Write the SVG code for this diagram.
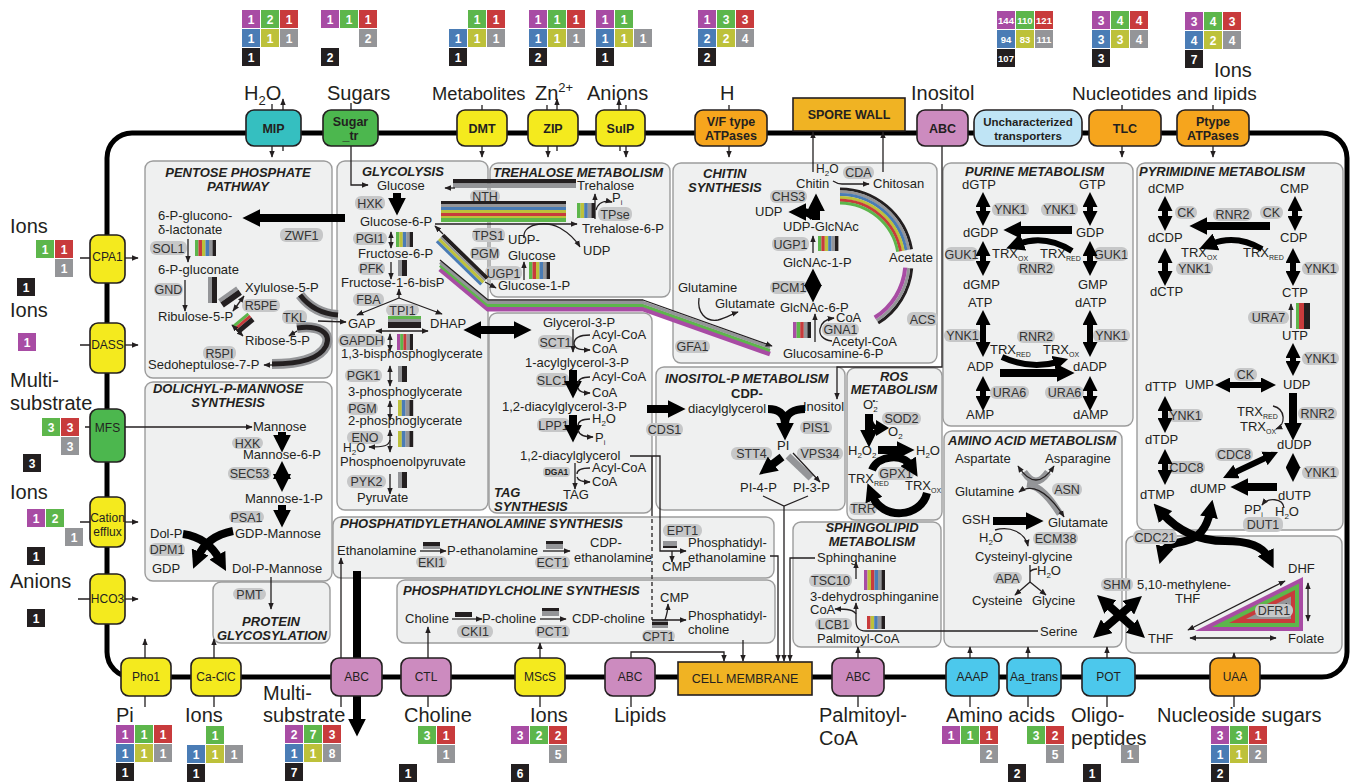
<svg xmlns="http://www.w3.org/2000/svg" width="1350" height="783" viewBox="0 0 1350 783">
<style>
text{font-family:"Liberation Sans",Arial,Helvetica,sans-serif;fill:#231f20}
.m{font-size:13px}
.L{font-size:20px}
.e{font-size:12.5px;fill:#333;text-anchor:middle}
.ti{font-size:13px;font-weight:bold;font-style:italic}
.pl{fill:#c6c7c8}
.pn{fill:#eff0f0;stroke:#9c9c9c;stroke-width:1.4}
.n{fill:#fff;font-weight:bold;font-size:12px;text-anchor:middle}
.n3{fill:#fff;font-weight:bold;font-size:9.5px;text-anchor:middle}
.P{fill:#a84ca4}.G{fill:#5db64b}.R{fill:#c83b3c}.B{fill:#4a7cb5}.Y{fill:#bdc13a}.Gy{fill:#949598}.K{fill:#231f20}
.ln{fill:none;stroke:#231f20;stroke-width:1.3}
.th{fill:none;stroke:#000;stroke-width:8}
.md{fill:none;stroke:#000;stroke-width:6}
.tp{stroke:#231f20;stroke-width:1.6}
.tx{font-size:12px;text-anchor:middle}
.tb{font-size:12.5px;font-weight:bold;text-anchor:middle}
</style>
<defs>
<marker id="a" viewBox="0 0 10 10" refX="9" refY="5" markerWidth="7" markerHeight="7" markerUnits="userSpaceOnUse" orient="auto-start-reverse"><path d="M0,1L10,5L0,9z" fill="#231f20"/></marker>
<marker id="A" viewBox="0 0 10 10" refX="3" refY="5" markerWidth="18" markerHeight="18" markerUnits="userSpaceOnUse" orient="auto-start-reverse"><path d="M0,0L10,5L0,10z" fill="#000"/></marker>
<marker id="D" viewBox="0 0 10 10" refX="3" refY="5" markerWidth="15" markerHeight="15" markerUnits="userSpaceOnUse" orient="auto-start-reverse"><path d="M0,0L10,5L0,10z" fill="#000"/></marker>
</defs>
<rect width="1350" height="783" fill="#fff"/>

<!-- cell outline -->
<rect id="cell" x="107" y="133" width="1240" height="544" rx="25" fill="none" stroke="#000" stroke-width="5"/>

<!-- outside labels -->
<g id="labels">
<text class="L" x="244" y="100">H<tspan style="font-size:13px" dy="5">2</tspan><tspan dy="-5">O</tspan></text>
<text class="L" x="327" y="100">Sugars</text>
<text class="L" x="432" y="100" style="font-size:18.3px">Metabolites</text>
<text class="L" x="535" y="100">Zn<tspan style="font-size:13px" dy="-8">2+</tspan></text>
<text class="L" x="587" y="100">Anions</text>
<text class="L" x="720" y="100">H</text>
<text class="L" x="911" y="100">Inositol</text>
<text class="L" x="1072" y="100" style="font-size:19px">Nucleotides and lipids</text>
<text class="L" x="1214" y="77">Ions</text>
<text class="L" x="10" y="233">Ions</text>
<text class="L" x="10" y="317">Ions</text>
<text class="L" x="10" y="387">Multi-</text>
<text class="L" x="10" y="410">substrate</text>
<text class="L" x="10" y="499">Ions</text>
<text class="L" x="10" y="588">Anions</text>
<text class="L" x="116" y="722">Pi</text>
<text class="L" x="185" y="722">Ions</text>
<text class="L" x="263" y="700">Multi-</text>
<text class="L" x="263" y="722">substrate</text>
<text class="L" x="404" y="722">Choline</text>
<text class="L" x="530" y="722">Ions</text>
<text class="L" x="614" y="722">Lipids</text>
<text class="L" x="819" y="722">Palmitoyl-</text>
<text class="L" x="819" y="745">CoA</text>
<text class="L" x="946" y="722">Amino acids</text>
<text class="L" x="1071" y="722">Oligo-</text>
<text class="L" x="1071" y="745">peptides</text>
<text class="L" x="1157" y="722">Nucleoside sugars</text>
</g>

<!-- count boxes -->
<g id="counts">
<g transform="translate(242,10)"><rect class="P" width="18" height="18"/><text class="n" x="9" y="13.5">1</text><rect class="G" x="19" width="18" height="18"/><text class="n" x="28" y="13.5">2</text><rect class="R" x="38" width="18" height="18"/><text class="n" x="47" y="13.5">1</text><rect class="B" y="19" width="18" height="18"/><text class="n" x="9" y="32.5">1</text><rect class="Y" x="19" y="19" width="18" height="18"/><text class="n" x="28" y="32.5">1</text><rect class="Gy" x="38" y="19" width="18" height="18"/><text class="n" x="47" y="32.5">1</text><rect class="K" y="38" width="18" height="18"/><text class="n" x="9" y="51.5">1</text></g>
<g transform="translate(321,10)"><rect class="P" width="18" height="18"/><text class="n" x="9" y="13.5">1</text><rect class="G" x="19" width="18" height="18"/><text class="n" x="28" y="13.5">1</text><rect class="R" x="38" width="18" height="18"/><text class="n" x="47" y="13.5">1</text><rect class="Gy" x="38" y="19" width="18" height="18"/><text class="n" x="47" y="32.5">2</text><rect class="K" y="38" width="18" height="18"/><text class="n" x="9" y="51.5">2</text></g>
<g transform="translate(449,10)"><rect class="G" x="19" width="18" height="18"/><text class="n" x="28" y="13.5">1</text><rect class="R" x="38" width="18" height="18"/><text class="n" x="47" y="13.5">1</text><rect class="B" y="19" width="18" height="18"/><text class="n" x="9" y="32.5">1</text><rect class="Y" x="19" y="19" width="18" height="18"/><text class="n" x="28" y="32.5">1</text><rect class="Gy" x="38" y="19" width="18" height="18"/><text class="n" x="47" y="32.5">1</text><rect class="K" y="38" width="18" height="18"/><text class="n" x="9" y="51.5">1</text></g>
<g transform="translate(529,10)"><rect class="P" width="18" height="18"/><text class="n" x="9" y="13.5">1</text><rect class="G" x="19" width="18" height="18"/><text class="n" x="28" y="13.5">1</text><rect class="R" x="38" width="18" height="18"/><text class="n" x="47" y="13.5">1</text><rect class="B" y="19" width="18" height="18"/><text class="n" x="9" y="32.5">1</text><rect class="Y" x="19" y="19" width="18" height="18"/><text class="n" x="28" y="32.5">1</text><rect class="Gy" x="38" y="19" width="18" height="18"/><text class="n" x="47" y="32.5">1</text><rect class="K" y="38" width="18" height="18"/><text class="n" x="9" y="51.5">2</text></g>
<g transform="translate(596,10)"><rect class="P" width="18" height="18"/><text class="n" x="9" y="13.5">1</text><rect class="G" x="19" width="18" height="18"/><text class="n" x="28" y="13.5">1</text><rect class="B" y="19" width="18" height="18"/><text class="n" x="9" y="32.5">1</text><rect class="Y" x="19" y="19" width="18" height="18"/><text class="n" x="28" y="32.5">1</text><rect class="Gy" x="38" y="19" width="18" height="18"/><text class="n" x="47" y="32.5">1</text><rect class="K" y="38" width="18" height="18"/><text class="n" x="9" y="51.5">1</text></g>
<g transform="translate(698,10)"><rect class="P" width="18" height="18"/><text class="n" x="9" y="13.5">1</text><rect class="G" x="19" width="18" height="18"/><text class="n" x="28" y="13.5">3</text><rect class="R" x="38" width="18" height="18"/><text class="n" x="47" y="13.5">3</text><rect class="B" y="19" width="18" height="18"/><text class="n" x="9" y="32.5">2</text><rect class="Y" x="19" y="19" width="18" height="18"/><text class="n" x="28" y="32.5">2</text><rect class="Gy" x="38" y="19" width="18" height="18"/><text class="n" x="47" y="32.5">4</text><rect class="K" y="38" width="18" height="18"/><text class="n" x="9" y="51.5">2</text></g>
<g transform="translate(997,11)"><rect class="P" width="18" height="18"/><text class="n3" x="9" y="12.5">144</text><rect class="G" x="19" width="18" height="18"/><text class="n3" x="28" y="12.5">110</text><rect class="R" x="38" width="18" height="18"/><text class="n3" x="47" y="12.5">121</text><rect class="B" y="19" width="18" height="18"/><text class="n3" x="9" y="31.5">94</text><rect class="Y" x="19" y="19" width="18" height="18"/><text class="n3" x="28" y="31.5">83</text><rect class="Gy" x="38" y="19" width="18" height="18"/><text class="n3" x="47" y="31.5">111</text><rect class="K" y="38" width="18" height="18"/><text class="n3" x="9" y="50.5">107</text></g>
<g transform="translate(1092,11)"><rect class="P" width="18" height="18"/><text class="n" x="9" y="13.5">3</text><rect class="G" x="19" width="18" height="18"/><text class="n" x="28" y="13.5">4</text><rect class="R" x="38" width="18" height="18"/><text class="n" x="47" y="13.5">4</text><rect class="B" y="19" width="18" height="18"/><text class="n" x="9" y="32.5">3</text><rect class="Y" x="19" y="19" width="18" height="18"/><text class="n" x="28" y="32.5">3</text><rect class="Gy" x="38" y="19" width="18" height="18"/><text class="n" x="47" y="32.5">4</text><rect class="K" y="38" width="18" height="18"/><text class="n" x="9" y="51.5">3</text></g>
<g transform="translate(1185,12)"><rect class="P" width="18" height="18"/><text class="n" x="9" y="13.5">3</text><rect class="G" x="19" width="18" height="18"/><text class="n" x="28" y="13.5">4</text><rect class="R" x="38" width="18" height="18"/><text class="n" x="47" y="13.5">3</text><rect class="B" y="19" width="18" height="18"/><text class="n" x="9" y="32.5">4</text><rect class="Y" x="19" y="19" width="18" height="18"/><text class="n" x="28" y="32.5">2</text><rect class="Gy" x="38" y="19" width="18" height="18"/><text class="n" x="47" y="32.5">4</text><rect class="K" y="38" width="18" height="18"/><text class="n" x="9" y="51.5">7</text></g>
<!-- left -->
<g transform="translate(17,240)"><rect class="G" x="19" width="18" height="18"/><text class="n" x="28" y="13.5">1</text><rect class="R" x="38" width="18" height="18"/><text class="n" x="47" y="13.5">1</text><rect class="Gy" x="38" y="19" width="18" height="18"/><text class="n" x="47" y="32.5">1</text><rect class="K" y="38" width="18" height="18"/><text class="n" x="9" y="51.5">1</text></g>
<g transform="translate(18,333)"><rect class="P" width="18" height="18"/><text class="n" x="9" y="13.5">1</text></g>
<g transform="translate(23,418)"><rect class="G" x="19" width="18" height="18"/><text class="n" x="28" y="13.5">3</text><rect class="R" x="38" width="18" height="18"/><text class="n" x="47" y="13.5">3</text><rect class="Gy" x="38" y="19" width="18" height="18"/><text class="n" x="47" y="32.5">3</text><rect class="K" y="36" width="18" height="18"/><text class="n" x="9" y="49.5">3</text></g>
<g transform="translate(27,509)"><rect class="P" width="18" height="18"/><text class="n" x="9" y="13.5">1</text><rect class="G" x="19" width="18" height="18"/><text class="n" x="28" y="13.5">2</text><rect class="Gy" x="38" y="19" width="18" height="18"/><text class="n" x="47" y="32.5">1</text><rect class="K" y="38" width="18" height="18"/><text class="n" x="9" y="51.5">1</text></g>
<g transform="translate(27,609)"><rect class="K" width="18" height="18"/><text class="n" x="9" y="13.5">1</text></g>
<!-- bottom -->
<g transform="translate(116,725)"><rect class="P" width="18" height="18"/><text class="n" x="9" y="13.5">1</text><rect class="G" x="19" width="18" height="18"/><text class="n" x="28" y="13.5">1</text><rect class="R" x="38" width="18" height="18"/><text class="n" x="47" y="13.5">1</text><rect class="B" y="19" width="18" height="18"/><text class="n" x="9" y="32.5">1</text><rect class="Y" x="19" y="19" width="18" height="18"/><text class="n" x="28" y="32.5">1</text><rect class="Gy" x="38" y="19" width="18" height="18"/><text class="n" x="47" y="32.5">1</text><rect class="K" y="38" width="18" height="18"/><text class="n" x="9" y="51.5">1</text></g>
<g transform="translate(187,726)"><rect class="G" x="19" width="18" height="18"/><text class="n" x="28" y="13.5">1</text><rect class="B" y="19" width="18" height="18"/><text class="n" x="9" y="32.5">1</text><rect class="Y" x="19" y="19" width="18" height="18"/><text class="n" x="28" y="32.5">1</text><rect class="Gy" x="38" y="19" width="18" height="18"/><text class="n" x="47" y="32.5">1</text><rect class="K" y="38" width="18" height="18"/><text class="n" x="9" y="51.5">1</text></g>
<g transform="translate(285,725)"><rect class="P" width="18" height="18"/><text class="n" x="9" y="13.5">2</text><rect class="G" x="19" width="18" height="18"/><text class="n" x="28" y="13.5">7</text><rect class="R" x="38" width="18" height="18"/><text class="n" x="47" y="13.5">3</text><rect class="B" y="19" width="18" height="18"/><text class="n" x="9" y="32.5">1</text><rect class="Y" x="19" y="19" width="18" height="18"/><text class="n" x="28" y="32.5">1</text><rect class="Gy" x="38" y="19" width="18" height="18"/><text class="n" x="47" y="32.5">8</text><rect class="K" y="38" width="18" height="18"/><text class="n" x="9" y="51.5">7</text></g>
<g transform="translate(399,726)"><rect class="G" x="19" width="18" height="18"/><text class="n" x="28" y="13.5">3</text><rect class="R" x="38" width="18" height="18"/><text class="n" x="47" y="13.5">1</text><rect class="Gy" x="38" y="19" width="18" height="18"/><text class="n" x="47" y="32.5">1</text><rect class="K" y="38" width="18" height="18"/><text class="n" x="9" y="51.5">1</text></g>
<g transform="translate(511,726)"><rect class="P" width="18" height="18"/><text class="n" x="9" y="13.5">3</text><rect class="G" x="19" width="18" height="18"/><text class="n" x="28" y="13.5">2</text><rect class="R" x="38" width="18" height="18"/><text class="n" x="47" y="13.5">2</text><rect class="Gy" x="38" y="19" width="18" height="18"/><text class="n" x="47" y="32.5">5</text><rect class="K" y="38" width="18" height="18"/><text class="n" x="9" y="51.5">6</text></g>
<g transform="translate(942,726)"><rect class="P" width="18" height="18"/><text class="n" x="9" y="13.5">1</text><rect class="G" x="19" width="18" height="18"/><text class="n" x="28" y="13.5">1</text><rect class="R" x="38" width="18" height="18"/><text class="n" x="47" y="13.5">1</text><rect class="Gy" x="38" y="19" width="18" height="18"/><text class="n" x="47" y="32.5">2</text></g>
<g transform="translate(1008,726)"><rect class="G" x="19" width="18" height="18"/><text class="n" x="28" y="13.5">3</text><rect class="R" x="38" width="18" height="18"/><text class="n" x="47" y="13.5">2</text><rect class="Gy" x="38" y="19" width="18" height="18"/><text class="n" x="47" y="32.5">5</text><rect class="K" y="38" width="18" height="18"/><text class="n" x="9" y="51.5">2</text></g>
<g transform="translate(1083,726)"><rect class="Gy" x="38" y="19" width="18" height="18"/><text class="n" x="47" y="32.5">1</text><rect class="K" y="38" width="18" height="18"/><text class="n" x="9" y="51.5">1</text></g>
<g transform="translate(1211,726)"><rect class="P" width="18" height="18"/><text class="n" x="9" y="13.5">3</text><rect class="G" x="19" width="18" height="18"/><text class="n" x="28" y="13.5">3</text><rect class="R" x="38" width="18" height="18"/><text class="n" x="47" y="13.5">1</text><rect class="B" y="19" width="18" height="18"/><text class="n" x="9" y="32.5">1</text><rect class="Y" x="19" y="19" width="18" height="18"/><text class="n" x="28" y="32.5">1</text><rect class="Gy" x="38" y="19" width="18" height="18"/><text class="n" x="47" y="32.5">2</text><rect class="K" y="38" width="18" height="18"/><text class="n" x="9" y="51.5">2</text></g>
</g>

<!-- PENTOSE PHOSPHATE -->
<g id="ppp">
<rect class="pn" x="145" y="161" width="187" height="217" rx="8"/>
<text class="ti" x="238" y="177" text-anchor="middle">PENTOSE PHOSPHATE</text>
<text class="ti" x="238" y="191" text-anchor="middle">PATHWAY</text>
<text class="m" x="158" y="220">6-P-glucono-</text>
<text class="m" x="158" y="234">δ-lactonate</text>
<rect class="pl" x="280" y="228" width="43" height="14" rx="6"/><text class="e" x="301.5" y="239.5">ZWF1</text>
<rect class="pl" x="150" y="241" width="37" height="14" rx="6"/><text class="e" x="168.5" y="252.5">SOL1</text>
<g><rect class="G" x="195" y="240" width="3.5" height="16"/><rect class="R" x="198.5" y="240" width="3.5" height="16"/><rect class="Y" x="202" y="240" width="3.5" height="16"/><rect class="B" x="205.5" y="240" width="3.5" height="16"/><rect class="Gy" x="209" y="240" width="3.5" height="16"/><rect class="K" x="212.5" y="240" width="3.5" height="16"/></g>
<text class="m" x="158" y="274">6-P-gluconate</text>
<rect class="pl" x="154" y="283" width="29" height="13" rx="6"/><text class="e" x="168.5" y="294">GND</text>
<rect class="Gy" x="208" y="277" width="4" height="26"/><rect class="K" x="212" y="277" width="5" height="26"/>
<text class="m" x="158" y="321">Ribulose-5-P</text>
<text class="m" x="245" y="292">Xylulose-5-P</text>
<rect class="pl" x="242" y="299" width="38" height="13" rx="6"/><text class="e" x="261" y="310">R5PE</text>
<g transform="translate(230,297) rotate(-35)"><rect class="Gy" x="-11" y="-5" width="22" height="4"/><rect class="K" x="-11" y="-1" width="22" height="6"/></g>
<rect class="pl" x="282" y="310" width="25" height="14" rx="6"/><text class="e" x="294.5" y="321.5">TKL</text>
<g transform="translate(243,323) rotate(-40)"><rect class="G" x="-10" y="-5" width="20" height="3"/><rect class="R" x="-10" y="-2" width="20" height="3"/><rect class="K" x="-10" y="1" width="20" height="5"/></g>
<text class="m" x="245" y="345">Ribose-5-P</text>
<rect class="pl" x="203" y="346" width="33" height="14" rx="6"/><text class="e" x="219.5" y="357.5">R5PI</text>
<text class="m" x="148" y="369">Sedoheptulose-7-P</text>
</g>

<!-- GLYCOLYSIS -->
<g id="glycolysis">
<rect class="pn" x="337" y="161" width="151" height="349" rx="8"/>
<text class="ti" x="362" y="176">GLYCOLYSIS</text>
<text class="m" x="377" y="190">Glucose</text>
<rect class="pl" x="355" y="196" width="30" height="14" rx="6"/><text class="e" x="370" y="207.5">HXK</text>
<text class="m" x="360" y="226">Glucose-6-P</text>
<rect class="pl" x="353" y="232" width="34" height="13" rx="6"/><text class="e" x="370" y="243">PGI1</text>
<g><rect class="G" x="396" y="232" width="3.4" height="15"/><rect class="Y" x="399.4" y="232" width="3.4" height="15"/><rect class="B" x="402.8" y="232" width="3.4" height="15"/><rect class="Gy" x="406.2" y="232" width="3.4" height="15"/><rect class="K" x="409.6" y="232" width="3.4" height="15"/></g>
<text class="m" x="358" y="258">Fructose-6-P</text>
<rect class="pl" x="358" y="262" width="27" height="13" rx="6"/><text class="e" x="371.5" y="273">PFK</text>
<rect class="Gy" x="398" y="260" width="4" height="16"/><rect class="K" x="402" y="260" width="5" height="16"/>
<text class="m" x="341" y="287">Fructose-1-6-bisP</text>
<rect class="pl" x="353" y="293" width="31" height="13" rx="6"/><text class="e" x="368.5" y="304">FBA</text>
<rect class="pl" x="386" y="304" width="33" height="12" rx="6"/><text class="e" x="402.5" y="314.5">TPI1</text>
<rect class="G" x="388" y="316" width="33" height="3"/><rect class="Gy" x="388" y="319" width="33" height="3"/><rect class="K" x="388" y="322" width="33" height="6"/>
<text class="m" x="348" y="328">GAP</text>
<text class="m" x="430" y="328">DHAP</text>
<rect class="pl" x="338" y="334" width="47" height="13" rx="6"/><text class="e" x="361.5" y="345">GAPDH</text>
<g><rect class="P" x="397" y="334" width="3.2" height="16"/><rect class="G" x="400.2" y="334" width="3.2" height="16"/><rect class="R" x="403.4" y="334" width="3.2" height="16"/><rect class="Gy" x="406.6" y="334" width="3.2" height="16"/><rect class="K" x="409.8" y="334" width="3.2" height="16"/></g>
<text class="m" x="341" y="358">1,3-bisphosphoglycerate</text>
<rect class="pl" x="345" y="369" width="37" height="13" rx="6"/><text class="e" x="363.5" y="380">PGK1</text>
<rect class="Gy" x="398" y="366" width="4" height="16"/><rect class="K" x="402" y="366" width="5" height="16"/>
<text class="m" x="348" y="396">3-phosphoglycerate</text>
<rect class="pl" x="347" y="402" width="31" height="13" rx="6"/><text class="e" x="362.5" y="413">PGM</text>
<g><rect class="Y" x="398" y="400" width="3.8" height="16"/><rect class="B" x="401.8" y="400" width="3.8" height="16"/><rect class="Gy" x="405.6" y="400" width="3.8" height="16"/><rect class="K" x="409.4" y="400" width="3.8" height="16"/></g>
<text class="m" x="348" y="425">2-phosphoglycerate</text>
<rect class="pl" x="347" y="431" width="36" height="13" rx="6"/><text class="e" x="365" y="442">ENO</text>
<g><rect class="Y" x="398" y="431" width="3.8" height="16"/><rect class="B" x="401.8" y="431" width="3.8" height="16"/><rect class="Gy" x="405.6" y="431" width="3.8" height="16"/><rect class="K" x="409.4" y="431" width="3.8" height="16"/></g>
<text x="343" y="452" style="font-size:12px">H<tspan style="font-size:8px" dy="3">2</tspan><tspan dy="-3">O</tspan></text>
<text class="m" x="340" y="466">Phosphoenolpyruvate</text>
<rect class="pl" x="347" y="475" width="39" height="13" rx="6"/><text class="e" x="366.5" y="486">PYK2</text>
<rect class="Gy" x="398" y="472" width="4" height="16"/><rect class="K" x="402" y="472" width="5" height="16"/>
<text class="m" x="357" y="502">Pyruvate</text>
</g>

<!-- TREHALOSE -->
<g id="trehalose">
<rect class="pn" x="490" y="163" width="180" height="134" rx="8"/>
<text class="ti" x="493" y="177">TREHALOSE METABOLISM</text>
<rect class="K" x="453" y="179" width="123" height="4.5"/><rect class="Gy" x="453" y="183.5" width="123" height="4.5"/>
<text class="m" x="577" y="190">Trehalose</text>
<rect class="pl" x="470" y="190" width="30" height="13" rx="6"/><text class="e" x="485" y="201">NTH</text>
<g><rect class="K" x="441" y="201" width="125" height="3"/><rect class="Gy" x="441" y="204" width="125" height="3"/><rect class="B" x="441" y="207" width="125" height="3"/><rect class="Y" x="441" y="210" width="125" height="3"/><rect class="R" x="441" y="213" width="125" height="3"/><rect class="Y" x="441" y="216" width="125" height="2"/><rect class="G" x="441" y="218" width="125" height="4"/></g>
<text class="m" x="582" y="233">Trehalose-6-P</text>
<rect class="pl" x="472" y="228" width="33" height="14" rx="6"/><text class="e" x="488.5" y="239.5">TPS1</text>
<rect class="pl" x="470" y="247" width="30" height="13" rx="6"/><text class="e" x="485" y="258">PGM</text>
<text class="m" x="508" y="244">UDP-</text>
<text class="m" x="508" y="260">Glucose</text>
<text class="m" x="583" y="255">UDP</text>
<rect class="pl" x="598" y="207" width="34" height="14" rx="6"/><text class="e" x="615" y="218.5">TPse</text>
<g><rect class="G" x="577" y="203" width="3.6" height="15"/><rect class="Y" x="580.6" y="203" width="3.6" height="15"/><rect class="B" x="584.2" y="203" width="3.6" height="15"/><rect class="Gy" x="587.8" y="203" width="3.6" height="15"/><rect class="K" x="591.4" y="203" width="3.6" height="15"/></g>
<text class="m" x="612" y="202">P<tspan style="font-size:7px" dy="3">i</tspan></text>
<rect class="pl" x="485" y="266" width="37" height="14" rx="6"/><text class="e" x="503.5" y="277.5">UGP1</text>
<g><rect class="G" x="529" y="262" width="3.5" height="17"/><rect class="R" x="532.5" y="262" width="3.5" height="17"/><rect class="Y" x="536" y="262" width="3.5" height="17"/><rect class="B" x="539.5" y="262" width="3.5" height="17"/><rect class="Gy" x="543" y="262" width="3.5" height="17"/><rect class="K" x="546.5" y="262" width="3.5" height="17"/></g>
<text class="m" x="498" y="290">Glucose-1-P</text>
</g>

<!-- TAG -->
<g id="tag">
<rect class="pn" x="489" y="313" width="163" height="200" rx="8"/>
<text class="m" x="543" y="327">Glycerol-3-P</text>
<rect class="pl" x="538" y="335" width="35" height="14" rx="6"/><text class="e" x="555.5" y="346.5">SCT1</text>
<text class="m" x="592" y="339">Acyl-CoA</text>
<text class="m" x="592" y="353">CoA</text>
<text class="m" x="525" y="367">1-acylglycerol-3-P</text>
<rect class="pl" x="536" y="373" width="33" height="14" rx="6"/><text class="e" x="552.5" y="384.5">SLC1</text>
<text class="m" x="592" y="381">Acyl-CoA</text>
<text class="m" x="592" y="397">CoA</text>
<text class="m" x="502" y="411">1,2-diacylglycerol-3-P</text>
<rect class="pl" x="537" y="418" width="33" height="14" rx="6"/><text class="e" x="553.5" y="429.5">LPP1</text>
<text class="m" x="592" y="423">H<tspan style="font-size:8px" dy="3">2</tspan><tspan dy="-3">O</tspan></text>
<text class="m" x="595" y="442">P<tspan style="font-size:7px" dy="3">i</tspan></text>
<text class="m" x="520" y="460">1,2-diacylglycerol</text>
<rect class="pl" x="543" y="467" width="27" height="10" rx="4"/><text x="556.5" y="475" style="font-size:8.5px;font-weight:bold" text-anchor="middle">DGA1</text>
<text class="m" x="592" y="472">Acyl-CoA</text>
<text class="m" x="592" y="486">CoA</text>
<text class="m" x="563" y="499">TAG</text>
<text class="ti" x="494" y="497">TAG</text>
<text class="ti" x="494" y="511">SYNTHESIS</text>
</g>

<!-- CHITIN -->
<g id="chitin">
<rect class="pn" x="673" y="163" width="264" height="200" rx="8"/>
<text class="ti" x="703" y="178">CHITIN</text>
<text class="ti" x="688" y="192">SYNTHESIS</text>
<text x="816" y="173" style="font-size:12px">H<tspan style="font-size:8px" dy="3">2</tspan><tspan dy="-3">O</tspan></text>
<rect class="pl" x="843" y="166" width="31" height="13" rx="6"/><text class="e" x="858.5" y="177">CDA</text>
<text class="m" x="796" y="188">Chitin</text>
<text class="m" x="873" y="188">Chitosan</text>
<rect class="pl" x="770" y="190" width="37" height="13" rx="6"/><text class="e" x="788.5" y="201">CHS3</text>
<text class="m" x="755" y="216">UDP</text>
<text class="m" x="783" y="231">UDP-GlcNAc</text>
<rect class="pl" x="772" y="237" width="37" height="14" rx="6"/><text class="e" x="790.5" y="248.5">UGP1</text>
<g><rect class="G" x="818" y="236" width="3.4" height="15"/><rect class="R" x="821.4" y="236" width="3.4" height="15"/><rect class="Y" x="824.8" y="236" width="3.4" height="15"/><rect class="B" x="828.2" y="236" width="3.4" height="15"/><rect class="Gy" x="831.6" y="236" width="3.4" height="15"/><rect class="K" x="835" y="236" width="3.4" height="15"/></g>
<text class="m" x="783" y="267">GlcNAc-1-P</text>
<rect class="pl" x="770" y="281" width="38" height="13" rx="6"/><text class="e" x="789" y="292">PCM1</text>
<text class="m" x="780" y="312">GlcNAc-6-P</text>
<text class="m" x="678" y="292">Glutamine</text>
<text class="m" x="715" y="308">Glutamate</text>
<rect class="pl" x="675" y="340" width="35" height="13" rx="6"/><text class="e" x="692.5" y="351">GFA1</text>
<text class="m" x="836" y="322">CoA</text>
<rect class="pl" x="822" y="323" width="37" height="13" rx="6"/><text class="e" x="840.5" y="334">GNA1</text>
<g><rect class="P" x="793" y="322" width="3.6" height="16"/><rect class="G" x="796.6" y="322" width="3.6" height="16"/><rect class="R" x="800.2" y="322" width="3.6" height="16"/><rect class="Gy" x="803.8" y="322" width="3.6" height="16"/><rect class="K" x="807.4" y="322" width="3.6" height="16"/></g>
<text class="m" x="832" y="346">Acetyl-CoA</text>
<text class="m" x="783" y="358">Glucosamine-6-P</text>
<g fill="none" stroke-width="3">
<path d="M840,189 A73,73 0 0 1 911.5,249.3" stroke="#231f20"/>
<path d="M840,191.8 A70.2,70.2 0 0 1 908.7,249.8" stroke="#949598"/>
<path d="M840,194.6 A67.4,67.4 0 0 1 906,250.3" stroke="#4a7cb5"/>
<path d="M840,197.4 A64.6,64.6 0 0 1 903.2,250.8" stroke="#bdc13a"/>
<path d="M840,200.2 A61.8,61.8 0 0 1 900.5,251.3" stroke="#c83b3c"/>
<path d="M840,203 A59,59 0 0 1 897.7,251.8" stroke="#5db64b"/>
<path d="M911.7,268.3 A72,72 0 0 1 878.2,323.1" stroke="#231f20"/>
<path d="M908.7,268 A69,69 0 0 1 876.6,320.5" stroke="#949598"/>
<path d="M905.2,267.7 A65.5,65.5 0 0 1 874.7,317.5" stroke="#a84ca4" stroke-width="4"/>
</g>
<text class="m" x="889" y="262">Acetate</text>
<rect class="pl" x="907" y="312" width="31" height="14" rx="6"/><text class="e" x="922.5" y="323.5">ACS</text>
</g>

<!-- INOSITOL-P -->
<g id="inositol">
<rect class="pn" x="656" y="367" width="189" height="143" rx="8"/>
<text class="ti" x="665" y="383">INOSITOL-P METABOLISM</text>
<text class="m" x="731" y="398" style="font-weight:bold">CDP-</text>
<text class="m" x="688" y="413">diacylglycerol</text>
<rect class="pl" x="646" y="423" width="37" height="13" rx="6"/><text class="e" x="664.5" y="434">CDS1</text>
<text class="m" x="803" y="411">Inositol</text>
<rect class="pl" x="800" y="421" width="32" height="13" rx="6"/><text class="e" x="816" y="432">PIS1</text>
<text class="m" x="777" y="450">PI</text>
<rect class="pl" x="731" y="447" width="41" height="13" rx="6"/><text class="e" x="751.5" y="458">STT4</text>
<rect class="pl" x="797" y="447" width="46" height="13" rx="6"/><text class="e" x="820" y="458">VPS34</text>
<text class="m" x="740" y="492">PI-4-P</text>
<text class="m" x="793" y="492">PI-3-P</text>
</g>

<!-- ROS -->
<g id="ros">
<rect class="pn" x="847" y="368" width="95" height="152" rx="8"/>
<text class="ti" x="894" y="381" text-anchor="middle">ROS</text>
<text class="ti" x="894" y="394" text-anchor="middle">METABOLISM</text>
<text class="m" x="863" y="409">O<tspan style="font-size:8px" dy="3">2</tspan><tspan style="font-size:8px" dx="-5" dy="-9">•-</tspan></text>
<rect class="pl" x="882" y="412" width="39" height="13" rx="6"/><text class="e" x="901.5" y="423">SOD2</text>
<text class="m" x="888" y="436">O<tspan style="font-size:8px" dy="3">2</tspan></text>
<text class="m" x="848" y="455">H<tspan style="font-size:8px" dy="3">2</tspan><tspan dy="-3">O</tspan><tspan style="font-size:8px" dy="3">2</tspan></text>
<text class="m" x="916" y="455">H<tspan style="font-size:8px" dy="3">2</tspan><tspan dy="-3">O</tspan></text>
<rect class="pl" x="878" y="467" width="36" height="13" rx="6"/><text class="e" x="896" y="478">GPX1</text>
<text class="m" x="848" y="483">TRX<tspan style="font-size:7px" dy="3">RED</tspan></text>
<text class="m" x="905" y="490">TRX<tspan style="font-size:7px" dy="3">OX</tspan></text>
<rect class="pl" x="849" y="502" width="28" height="13" rx="6"/><text class="e" x="863" y="513">TRR</text>
</g>

<!-- PURINE -->
<g id="purine">
<rect class="pn" x="943" y="163" width="190" height="263" rx="8"/>
<text class="ti" x="965" y="176">PURINE METABOLISM</text>
<text class="m" x="962" y="189">dGTP</text><text class="m" x="1079" y="189">GTP</text>
<rect class="pl" x="992" y="203" width="37" height="13" rx="6"/><text class="e" x="1010.5" y="214">YNK1</text>
<rect class="pl" x="1041" y="203" width="37" height="13" rx="6"/><text class="e" x="1059.5" y="214">YNK1</text>
<text class="m" x="963" y="237">dGDP</text><text class="m" x="1076" y="237">GDP</text>
<text class="m" x="992" y="258">TRX<tspan style="font-size:7px" dy="3">OX</tspan></text>
<text class="m" x="1040" y="258">TRX<tspan style="font-size:7px" dy="3">RED</tspan></text>
<rect class="pl" x="945" y="247" width="33" height="14" rx="6"/><text class="e" x="961.5" y="258.5">GUK1</text>
<rect class="pl" x="1094" y="247" width="34" height="14" rx="6"/><text class="e" x="1111" y="258.5">GUK1</text>
<rect class="pl" x="1017" y="262" width="38" height="13" rx="6"/><text class="e" x="1036" y="273">RNR2</text>
<text class="m" x="963" y="289">dGMP</text><text class="m" x="1078" y="289">GMP</text>
<text class="m" x="968" y="307">ATP</text><text class="m" x="1075" y="307">dATP</text>
<rect class="pl" x="944" y="329" width="37" height="13" rx="6"/><text class="e" x="962.5" y="340">YNK1</text>
<rect class="pl" x="1093" y="329" width="37" height="13" rx="6"/><text class="e" x="1111.5" y="340">YNK1</text>
<rect class="pl" x="1017" y="330" width="38" height="13" rx="6"/><text class="e" x="1036" y="341">RNR2</text>
<text class="m" x="990" y="354">TRX<tspan style="font-size:7px" dy="3">RED</tspan></text>
<text class="m" x="1043" y="354">TRX<tspan style="font-size:7px" dy="3">OX</tspan></text>
<text class="m" x="967" y="371">ADP</text><text class="m" x="1073" y="371">dADP</text>
<rect class="pl" x="990" y="386" width="39" height="13" rx="6"/><text class="e" x="1009.5" y="397">URA6</text>
<rect class="pl" x="1045" y="386" width="39" height="13" rx="6"/><text class="e" x="1064.5" y="397">URA6</text>
<text class="m" x="966" y="419">AMP</text><text class="m" x="1073" y="419">dAMP</text>
</g>

<!-- PYRIMIDINE -->
<g id="pyrimidine">
<rect class="pn" x="1137" y="163" width="206" height="367" rx="8"/>
<text class="ti" x="1139" y="176">PYRIMIDINE METABOLISM</text>
<text class="m" x="1148" y="193">dCMP</text><text class="m" x="1280" y="193">CMP</text>
<rect class="pl" x="1175" y="206" width="22" height="13" rx="6"/><text class="e" x="1186" y="217">CK</text>
<rect class="pl" x="1260" y="206" width="23" height="13" rx="6"/><text class="e" x="1271.5" y="217">CK</text>
<rect class="pl" x="1213" y="208" width="39" height="13" rx="6"/><text class="e" x="1232.5" y="219">RNR2</text>
<text class="m" x="1148" y="242">dCDP</text><text class="m" x="1280" y="242">CDP</text>
<text class="m" x="1181" y="257">TRX<tspan style="font-size:7px" dy="3">OX</tspan></text>
<text class="m" x="1243" y="257">TRX<tspan style="font-size:7px" dy="3">RED</tspan></text>
<rect class="pl" x="1176" y="262" width="37" height="13" rx="6"/><text class="e" x="1194.5" y="273">YNK1</text>
<rect class="pl" x="1302" y="262" width="37" height="13" rx="6"/><text class="e" x="1320.5" y="273">YNK1</text>
<text class="m" x="1150" y="296">dCTP</text><text class="m" x="1282" y="297">CTP</text>
<rect class="pl" x="1248" y="311" width="41" height="13" rx="6"/><text class="e" x="1268.5" y="322">URA7</text>
<rect class="G" x="1296" y="303" width="3" height="26"/><rect class="R" x="1299" y="303" width="5" height="26"/><rect class="K" x="1304" y="303" width="6" height="26"/>
<text class="m" x="1282" y="340">UTP</text>
<rect class="pl" x="1302" y="352" width="37" height="13" rx="6"/><text class="e" x="1320.5" y="363">YNK1</text>
<rect class="pl" x="1234" y="368" width="23" height="13" rx="6"/><text class="e" x="1245.5" y="379">CK</text>
<text class="m" x="1185" y="389">UMP</text><text class="m" x="1283" y="389">UDP</text>
<text class="m" x="1145" y="391">dTTP</text>
<rect class="pl" x="1298" y="407" width="39" height="13" rx="6"/><text class="e" x="1317.5" y="418">RNR2</text>
<text class="m" x="1237" y="416">TRX<tspan style="font-size:7px" dy="3">RED</tspan></text>
<text class="m" x="1240" y="431">TRX<tspan style="font-size:7px" dy="3">OX</tspan></text>
<rect class="pl" x="1168" y="409" width="35" height="13" rx="6"/><text class="e" x="1185.5" y="420">YNK1</text>
<text class="m" x="1145" y="444">dTDP</text>
<text class="m" x="1277" y="449">dUDP</text>
<rect class="pl" x="1215" y="448" width="38" height="13" rx="6"/><text class="e" x="1234" y="459">CDC8</text>
<rect class="pl" x="1168" y="461" width="37" height="13" rx="6"/><text class="e" x="1186.5" y="472">CDC8</text>
<rect class="pl" x="1302" y="466" width="37" height="13" rx="6"/><text class="e" x="1320.5" y="477">YNK1</text>
<text class="m" x="1190" y="493">dUMP</text>
<text class="m" x="1140" y="499">dTMP</text>
<text class="m" x="1278" y="500">dUTP</text>
<text class="m" x="1244" y="514">PP<tspan style="font-size:7px" dy="3">i</tspan></text>
<text class="m" x="1275" y="516">H<tspan style="font-size:8px" dy="3">2</tspan><tspan dy="-3">O</tspan></text>
<rect class="pl" x="1243" y="517" width="40" height="15" rx="6"/><text class="e" x="1263" y="529">DUT1</text>
</g>

<!-- FOLATE -->
<g id="folate">
<rect class="pn" x="1126" y="536" width="216" height="117" rx="8"/>
<text class="m" x="1288" y="573">DHF</text>
<text class="m" x="1137" y="589">5,10-methylene-</text>
<text class="m" x="1175" y="603">THF</text>
<text class="m" x="1148" y="643">THF</text>
<text class="m" x="1288" y="643">Folate</text>
<polygon class="P" points="1195,631 1303,577 1303,631"/>
<polygon class="G" points="1212,627 1299,583.5 1299,627"/>
<polygon class="R" points="1229,623 1295,590 1295,623"/>
<polygon class="Gy" points="1246,619 1291,596.4 1291,619"/>
<polygon class="K" points="1263,615 1287,603 1287,615"/>
<rect class="pl" x="1255" y="604" width="38" height="13" rx="6"/><text class="e" x="1274" y="615">DFR1</text>
</g>

<!-- AMINO ACID -->
<g id="aminoacid">
<rect class="pn" x="944" y="431" width="178" height="216" rx="8"/>
<text class="ti" x="948" y="445">AMINO ACID METABOLISM</text>
<text class="m" x="955" y="463">Aspartate</text>
<text class="m" x="1045" y="463">Asparagine</text>
<text class="m" x="955" y="496">Glutamine</text>
<rect class="pl" x="1052" y="483" width="30" height="13" rx="6"/><text class="e" x="1067" y="494">ASN</text>
<text class="m" x="962" y="524">GSH</text>
<text class="m" x="1048" y="527">Glutamate</text>
<text class="m" x="979" y="542">H<tspan style="font-size:8px" dy="3">2</tspan><tspan dy="-3">O</tspan></text>
<rect class="pl" x="1033" y="532" width="45" height="13" rx="6"/><text class="e" x="1055.5" y="543">ECM38</text>
<text class="m" x="975" y="561">Cysteinyl-glycine</text>
<rect class="pl" x="993" y="572" width="29" height="12" rx="6"/><text class="e" x="1007.5" y="582.5">APA</text>
<text class="m" x="1037" y="575">H<tspan style="font-size:8px" dy="3">2</tspan><tspan dy="-3">O</tspan></text>
<text class="m" x="972" y="605">Cysteine</text>
<text class="m" x="1032" y="605">Glycine</text>
<text class="m" x="1040" y="636">Serine</text>
</g>

<!-- SPHINGOLIPID -->
<g id="sphingolipid">
<rect class="pn" x="793" y="522" width="148" height="125" rx="8"/>
<text class="ti" x="872" y="532" text-anchor="middle">SPHINGOLIPID</text>
<text class="ti" x="872" y="546" text-anchor="middle">METABOLISM</text>
<text class="m" x="817" y="562">Sphinghanine</text>
<rect class="pl" x="809" y="574" width="43" height="13" rx="6"/><text class="e" x="830.5" y="585">TSC10</text>
<g><rect class="P" x="864" y="570" width="3.5" height="20"/><rect class="Y" x="867.5" y="570" width="3.5" height="20"/><rect class="R" x="871" y="570" width="3.5" height="20"/><rect class="B" x="874.5" y="570" width="3.5" height="20"/><rect class="Gy" x="878" y="570" width="3.5" height="20"/><rect class="K" x="881.5" y="570" width="3.5" height="20"/></g>
<text class="m" x="810" y="601">3-dehydrosphinganine</text>
<text class="m" x="810" y="614">CoA</text>
<rect class="pl" x="815" y="618" width="37" height="12" rx="6"/><text class="e" x="833.5" y="628.5">LCB1</text>
<g><rect class="R" x="867" y="616" width="3.6" height="13"/><rect class="Y" x="870.6" y="616" width="3.6" height="13"/><rect class="B" x="874.2" y="616" width="3.6" height="13"/><rect class="Gy" x="877.8" y="616" width="3.6" height="13"/><rect class="K" x="881.4" y="616" width="3.6" height="13"/></g>
<text class="m" x="817" y="643">Palmitoyl-CoA</text>
</g>

<!-- PHOSPHATIDYLETHANOLAMINE -->
<g id="pe">
<rect class="pn" x="333" y="517" width="441" height="61" rx="8"/>
<text class="ti" x="340" y="528">PHOSPHATIDYLETHANOLAMINE SYNTHESIS</text>
<text class="m" x="337" y="555">Ethanolamine</text>
<rect class="K" x="423" y="542" width="17" height="4"/><rect class="Gy" x="423" y="546" width="17" height="3"/>
<rect class="pl" x="416" y="556" width="31" height="12" rx="6"/><text class="e" x="431.5" y="566.5">EKI1</text>
<text class="m" x="447" y="555">P-ethanolamine</text>
<rect class="K" x="546" y="541" width="17" height="3"/><rect class="Gy" x="546" y="544" width="17" height="5"/>
<rect class="pl" x="535" y="556" width="35" height="13" rx="6"/><text class="e" x="552.5" y="567">ECT1</text>
<text class="m" x="590" y="547">CDP-</text>
<text class="m" x="574" y="562">ethanolamine</text>
<rect class="pl" x="663" y="524" width="39" height="13" rx="6"/><text class="e" x="682.5" y="535">EPT1</text>
<rect class="Gy" x="663" y="541" width="14" height="5"/><rect class="K" x="663" y="546" width="14" height="2"/>
<text class="m" x="688" y="547">Phosphatidyl-</text>
<text class="m" x="688" y="562">ethanolamine</text>
<text class="m" x="662" y="571">CMP</text>
</g>

<!-- PHOSPHATIDYLCHOLINE -->
<g id="pc">
<rect class="pn" x="397" y="580" width="378" height="63" rx="8"/>
<text class="ti" x="403" y="595">PHOSPHATIDYLCHOLINE SYNTHESIS</text>
<text class="m" x="405" y="623">Choline</text>
<rect class="K" x="455" y="612" width="17" height="5"/>
<rect class="pl" x="457" y="625" width="36" height="13" rx="6"/><text class="e" x="475" y="636">CKI1</text>
<text class="m" x="482" y="623">P-choline</text>
<rect class="K" x="542" y="608" width="17" height="3"/><rect class="Gy" x="542" y="611" width="17" height="5"/>
<rect class="pl" x="535" y="625" width="35" height="13" rx="6"/><text class="e" x="552.5" y="636">PCT1</text>
<text class="m" x="572" y="623">CDP-choline</text>
<rect class="Gy" x="652" y="619" width="16" height="3"/><rect class="K" x="652" y="622" width="16" height="3"/><rect class="Gy" x="652" y="625" width="16" height="3"/>
<rect class="pl" x="642" y="630" width="33" height="12" rx="6"/><text class="e" x="658.5" y="640.5">CPT1</text>
<text class="m" x="660" y="602">CMP</text>
<text class="m" x="688" y="620">Phosphatidyl-</text>
<text class="m" x="688" y="634">choline</text>
</g>

<!-- DOLICHYL -->
<g id="dolichyl">
<rect class="pn" x="145" y="382" width="187" height="199" rx="8"/>
<text class="ti" x="228" y="393" text-anchor="middle">DOLICHYL-P-MANNOSE</text>
<text class="ti" x="228" y="407" text-anchor="middle">SYNTHESIS</text>
<text class="m" x="253" y="431">Mannose</text>
<rect class="pl" x="232" y="437" width="31" height="12" rx="6"/><text class="e" x="247.5" y="447.5">HXK</text>
<text class="m" x="243" y="459">Mannose-6-P</text>
<rect class="pl" x="228" y="467" width="43" height="13" rx="6"/><text class="e" x="249.5" y="478">SEC53</text>
<text class="m" x="245" y="503">Mannose-1-P</text>
<rect class="pl" x="229" y="511" width="35" height="12" rx="6"/><text class="e" x="246.5" y="521.5">PSA1</text>
<text class="m" x="150" y="538">Dol-P</text>
<text class="m" x="235" y="538">GDP-Mannose</text>
<rect class="pl" x="149" y="543" width="36" height="13" rx="6"/><text class="e" x="167" y="554">DPM1</text>
<text class="m" x="152" y="573">GDP</text>
<text class="m" x="232" y="573">Dol-P-Mannose</text>
</g>

<!-- PROTEIN GLYCOSYLATION -->
<g id="glycosylation">
<rect class="pn" x="213" y="582" width="117" height="61" rx="8"/>
<rect class="pl" x="233" y="588" width="33" height="12" rx="6"/><text class="e" x="249.5" y="598.5">PMT</text>
<text class="ti" x="271" y="626" text-anchor="middle">PROTEIN</text>
<text class="ti" x="272" y="640" text-anchor="middle">GLYCOSYLATION</text>
</g>

<!-- CONNECTORS -->
<g id="connectors">
<!-- PPP -->
<line class="th" x1="345" y1="218" x2="255" y2="218" marker-end="url(#A)"/>
<line class="ln" x1="188" y1="239" x2="188" y2="262" marker-end="url(#a)"/>
<line class="ln" x1="185" y1="280" x2="185" y2="311" marker-end="url(#a)"/>
<line class="ln" x1="233" y1="311" x2="244" y2="296" marker-start="url(#a)" marker-end="url(#a)"/>
<line class="ln" x1="232" y1="325" x2="243" y2="336" marker-start="url(#a)" marker-end="url(#a)"/>
<path d="M300,295 C310,308 322,314 338,315" fill="none" stroke="#949598" stroke-width="10"/>
<path d="M300,295 C310,308 322,314 338,315" fill="none" stroke="#231f20" stroke-width="5"/>
<line class="ln" x1="318" y1="321" x2="346" y2="322" marker-end="url(#a)"/>
<path d="M297,328 C318,325 332,332 326,346 C319,360 295,364 272,364" fill="none" stroke="#949598" stroke-width="10"/>
<path d="M297,328 C318,325 332,332 326,346 C319,360 295,364 272,364" fill="none" stroke="#231f20" stroke-width="5"/>
<line class="ln" x1="297" y1="331" x2="289" y2="336" marker-end="url(#a)"/>
<line class="ln" x1="273" y1="365" x2="264" y2="365" marker-end="url(#a)"/>
<!-- glycolysis -->
<path class="ln" d="M351,103 V110 M351,146 V185 H368" marker-end="url(#a)"/>
<line class="ln" x1="455" y1="188" x2="445" y2="188" marker-end="url(#a)"/>
<line class="th" x1="397" y1="193" x2="397" y2="203" marker-end="url(#A)"/>
<line class="ln" x1="435" y1="224" x2="577" y2="224" marker-end="url(#a)"/>
<path class="ln" d="M524,238 C522,224 545,220 560,228 C572,235 577,242 580,247" marker-end="url(#a)"/>
<line class="ln" x1="595" y1="219" x2="595" y2="194" marker-end="url(#a)"/>
<path class="ln" d="M596,210 C598,203 604,200 612,202" marker-end="url(#a)"/>
<line class="ln" x1="391" y1="232" x2="391" y2="248" marker-start="url(#a)" marker-end="url(#a)"/>
<g transform="translate(440,238) rotate(44.3)"><rect class="K" x="0" y="-6" width="62" height="4"/><rect class="Gy" x="0" y="-2" width="62" height="2"/><rect class="Y" x="0" y="0" width="62" height="3"/><rect class="B" x="0" y="3" width="62" height="3"/></g>
<line class="ln" x1="443" y1="234" x2="435" y2="226" marker-end="url(#a)"/>
<line class="ln" x1="485" y1="282" x2="496" y2="288" marker-end="url(#a)"/>
<line class="ln" x1="524" y1="280" x2="524" y2="262" marker-end="url(#a)"/>
<line class="ln" x1="391" y1="262" x2="391" y2="279" marker-end="url(#a)"/>
<g fill="none" stroke-linejoin="round">
<path d="M440,265 L488,305 L643,305 L770,350" stroke="#a84ca4" stroke-width="5" transform="translate(0,4)"/>
<path d="M440,265 L488,305 L643,305 L770,350" stroke="#5db64b" stroke-width="3" transform="translate(0,0.5)"/>
<path d="M440,265 L488,305 L643,305 L770,350" stroke="#949598" stroke-width="3" transform="translate(0,-2.5)"/>
<path d="M440,265 L488,305 L643,305 L772,351" stroke="#231f20" stroke-width="1.3" transform="translate(0,-5)" marker-end="url(#a)"/>
</g>
<line class="ln" x1="399" y1="298" x2="399" y2="289" marker-end="url(#a)"/>
<line class="ln" x1="399" y1="298" x2="357" y2="315" marker-end="url(#a)"/>
<line class="ln" x1="399" y1="298" x2="442" y2="314" marker-end="url(#a)"/>
<line class="ln" x1="376" y1="331" x2="428" y2="331" marker-start="url(#a)" marker-end="url(#a)"/>
<line class="th" x1="476" y1="330" x2="519" y2="330" marker-start="url(#A)" marker-end="url(#A)"/>
<line class="ln" x1="390" y1="334" x2="390" y2="351" marker-start="url(#a)" marker-end="url(#a)"/>
<line class="ln" x1="390" y1="366" x2="390" y2="386" marker-start="url(#a)" marker-end="url(#a)"/>
<line class="ln" x1="390" y1="401" x2="390" y2="420" marker-start="url(#a)" marker-end="url(#a)"/>
<line class="ln" x1="390" y1="430" x2="390" y2="452" marker-start="url(#a)" marker-end="url(#a)"/>
<path class="ln" d="M390,440 C389,446 384,447 369,447" marker-end="url(#a)"/>
<line class="ln" x1="390" y1="474" x2="390" y2="494" marker-end="url(#a)"/>
<!-- TAG -->
<line class="ln" x1="573" y1="329" x2="573" y2="352" marker-end="url(#a)"/>
<path class="ln" d="M590,335 C580,335 574,338 574,344"/>
<path class="ln" d="M574,344 C575,349 580,350 590,350" marker-end="url(#a)"/>
<line class="th" x1="573" y1="370" x2="573" y2="386" marker-end="url(#A)"/>
<path class="ln" d="M590,377 C581,377 578,380 578,384"/>
<path class="ln" d="M578,388 C579,392 583,393 590,393" marker-end="url(#a)"/>
<line class="th" x1="573" y1="415" x2="573" y2="430" marker-end="url(#A)"/>
<path class="ln" d="M590,419 C581,419 578,422 578,426"/>
<path class="ln" d="M578,430 C579,435 584,437 593,437" marker-end="url(#a)"/>
<path class="ln" d="M630,456 H660 V551 H686" marker-end="url(#a)"/>
<line class="ln" x1="672" y1="551" x2="672" y2="562" marker-end="url(#a)"/>
<path class="ln" d="M652,456 V512"/>
<path class="ln" d="M652,512 V620" stroke-dasharray="4,3"/>
<path class="ln" d="M652,620 H686" marker-end="url(#a)"/>
<path class="ln" d="M665,620 C667,614 668,610 668,604" marker-end="url(#a)"/>
<line class="ln" x1="575" y1="463" x2="575" y2="489" marker-end="url(#a)"/>
<path class="ln" d="M590,468 C581,468 577,470 577,474"/>
<path class="ln" d="M577,477 C578,481 583,482 590,482" marker-end="url(#a)"/>
<!-- chitin -->
<line class="ln" x1="813" y1="172" x2="813" y2="132" marker-end="url(#a)"/>
<line class="ln" x1="883" y1="172" x2="883" y2="132" marker-end="url(#a)"/>
<path class="ln" d="M833,181 C836,183 838,184 842,184 H869" marker-end="url(#a)"/>
<line class="th" x1="816" y1="220" x2="816" y2="206" marker-end="url(#A)"/>
<path class="th" d="M814,218 Q811,212 801,212" marker-end="url(#A)"/>
<line class="ln" x1="813" y1="253" x2="813" y2="236" marker-end="url(#a)"/>
<line class="th" x1="813" y1="281" x2="813" y2="290" marker-start="url(#A)" marker-end="url(#A)"/>
<path class="ln" d="M699,298 C697,312 705,322 718,320 C726,318 732,314 738,312" marker-end="url(#a)"/>
<line class="ln" x1="815" y1="342" x2="815" y2="314" marker-end="url(#a)"/>
<path class="ln" d="M832,341 C822,340 819,334 820,329 C821,323 826,319 834,318" marker-end="url(#a)"/>
<path class="ln" d="M942,146 V367 H837 V399" marker-end="url(#a)"/>
<!-- inositol -->
<line class="th" x1="647" y1="409" x2="673" y2="409" marker-end="url(#A)"/>
<path class="th" d="M768,409 C778,409 785,413 785,424"/>
<path class="th" d="M805,409 C795,409 785,413 785,424"/>
<line class="th" x1="785" y1="420" x2="785" y2="428" marker-end="url(#A)"/>
<line class="th" x1="782" y1="457" x2="769" y2="467" marker-end="url(#A)"/>
<line x1="788" y1="456" x2="811" y2="478" stroke="#949598" stroke-width="7"/>
<line class="ln" x1="793" y1="453" x2="820" y2="482" marker-end="url(#a)"/>
<path class="ln" d="M763,496 L784,506 L808,496 M784,506 V661" marker-end="url(#a)"/>
<!-- ROS -->
<line class="th" x1="869" y1="414" x2="869" y2="435" marker-end="url(#A)"/>
<path d="M870,419 Q872,428 878,428" fill="none" stroke="#000" stroke-width="5"/>
<polygon points="876,420 889,428 876,436" fill="#000"/>
<line class="th" x1="878" y1="450" x2="902" y2="450" marker-end="url(#A)"/>
<path class="th" d="M872,470 C878,455 903,453 911,466" marker-end="url(#A)"/>
<path class="th" d="M927,493 C921,518 882,521 872,495" marker-end="url(#A)"/>
<!-- purine -->
<line class="md" x1="983" y1="202.5" x2="983" y2="215.5" marker-start="url(#D)" marker-end="url(#D)"/>
<line class="md" x1="1090" y1="202.5" x2="1090" y2="215.5" marker-start="url(#D)" marker-end="url(#D)"/>
<line class="th" x1="1072" y1="230" x2="1016" y2="230" marker-end="url(#A)"/>
<path class="md" d="M1072,251 Q1045,234 1018,244" marker-end="url(#A)"/>
<line class="md" x1="983" y1="251.5" x2="983" y2="265.5" marker-start="url(#D)" marker-end="url(#D)"/>
<line class="md" x1="1090" y1="251.5" x2="1090" y2="265.5" marker-start="url(#D)" marker-end="url(#D)"/>
<line class="md" x1="983" y1="320.5" x2="983" y2="346.5" marker-start="url(#D)" marker-end="url(#D)"/>
<line class="md" x1="1090" y1="320.5" x2="1090" y2="346.5" marker-start="url(#D)" marker-end="url(#D)"/>
<line class="th" x1="1000" y1="373" x2="1062" y2="373" marker-end="url(#A)"/>
<path class="md" d="M1002,357 Q1030,370 1058,362" marker-end="url(#D)"/>
<line class="md" x1="983" y1="386.5" x2="983" y2="400.5" marker-start="url(#D)" marker-end="url(#D)"/>
<line class="md" x1="1090" y1="386.5" x2="1090" y2="400.5" marker-start="url(#D)" marker-end="url(#D)"/>
<!-- pyrimidine -->
<line class="md" x1="1165" y1="206.5" x2="1165" y2="220.5" marker-start="url(#D)" marker-end="url(#D)"/>
<line class="md" x1="1295" y1="206.5" x2="1295" y2="220.5" marker-start="url(#D)" marker-end="url(#D)"/>
<line class="th" x1="1270" y1="226" x2="1202" y2="226" marker-end="url(#A)"/>
<path class="md" d="M1262,249 Q1236,234 1211,244" marker-end="url(#A)"/>
<line class="md" x1="1165" y1="258.5" x2="1165" y2="275.5" marker-start="url(#D)" marker-end="url(#D)"/>
<line class="md" x1="1293" y1="258.5" x2="1293" y2="275.5" marker-start="url(#D)" marker-end="url(#D)"/>
<line class="ln" x1="1291" y1="328" x2="1291" y2="304" marker-end="url(#a)"/>
<line class="md" x1="1293" y1="353.5" x2="1293" y2="365.5" marker-start="url(#D)" marker-end="url(#D)"/>
<line class="md" x1="1225.5" y1="385" x2="1265.5" y2="385" marker-start="url(#D)" marker-end="url(#D)"/>
<line class="th" x1="1293" y1="393" x2="1293" y2="428" marker-end="url(#A)"/>
<path class="ln" d="M1273,406 C1286,409 1286,425 1276,429" marker-end="url(#a)"/>
<line class="md" x1="1165" y1="406.5" x2="1165" y2="422.5" marker-start="url(#D)" marker-end="url(#D)"/>
<line class="md" x1="1165" y1="459.5" x2="1165" y2="474.5" marker-start="url(#D)" marker-end="url(#D)"/>
<line class="md" x1="1268.5" y1="456.5" x2="1232.5" y2="473.5" marker-start="url(#D)" marker-end="url(#D)"/>
<line class="th" x1="1277" y1="487" x2="1243" y2="487" marker-end="url(#A)"/>
<line class="md" x1="1293" y1="463.5" x2="1293" y2="471.5" marker-start="url(#D)" marker-end="url(#D)"/>
<path class="ln" d="M1284,508 C1283,498 1268,497 1262,505" marker-end="url(#a)"/>
<path class="th" d="M1162,513 Q1187,541 1225,541 Q1260,541 1268,557" marker-start="url(#A)" marker-end="url(#A)"/>
<path class="th" d="M1210,512 Q1205,537 1185,541 Q1165,545 1163,552" marker-start="url(#A)" marker-end="url(#A)"/>
<rect class="pl" x="1133" y="530" width="44" height="14" rx="6"/><text class="e" x="1155" y="541.5">CDC21</text>
<!-- folate -->
<line class="ln" x1="1188" y1="630" x2="1285" y2="581" marker-start="url(#a)" marker-end="url(#a)"/>
<line class="ln" x1="1190" y1="638" x2="1276" y2="638" marker-start="url(#a)" marker-end="url(#a)"/>
<line class="ln" x1="1308" y1="583" x2="1308" y2="621" marker-start="url(#a)" marker-end="url(#a)"/>
<line class="th" x1="1106.4" y1="603.4" x2="1135.6" y2="629.6" marker-start="url(#A)" marker-end="url(#A)"/>
<line class="th" x1="1132.4" y1="604.2" x2="1102.6" y2="629.8" marker-start="url(#A)" marker-end="url(#A)"/>
<rect class="pl" x="1101" y="578" width="32" height="13" rx="6"/><text class="e" x="1117" y="589">SHM</text>
<!-- amino acid -->
<path d="M1024,472 Q1036,490 1048,472" fill="none" stroke="#949598" stroke-width="7"/>
<path class="ln" d="M1018,466 Q1036,494 1054,466" marker-start="url(#a)" marker-end="url(#a)"/>
<path d="M1027,484 C1040,486 1050,498 1060,514" fill="none" stroke="#949598" stroke-width="7"/>
<path class="ln" d="M1019,492 C1030,484 1046,488 1064,517" marker-start="url(#a)" marker-end="url(#a)"/>
<line class="th" x1="993" y1="521" x2="1031" y2="521" marker-end="url(#A)"/>
<path class="ln" d="M995,530 C1010,526 1025,532 1028,546" marker-end="url(#a)"/>
<path class="ln" d="M1030,565 V582 M1030,572 C1032,569 1034,569 1037,569"/>
<line class="ln" x1="1030" y1="582" x2="1015" y2="595" marker-end="url(#a)"/>
<line class="ln" x1="1030" y1="582" x2="1046" y2="595" marker-end="url(#a)"/>
<path class="ln" d="M1038,631 H866 C858,631 856,627 856,620 V603" marker-end="url(#a)"/>
<path class="ln" d="M856,614 C854,610 848,609 835,609" marker-end="url(#a)"/>
<!-- sphingolipid -->
<path class="ln" d="M815,558 H790 V661" marker-end="url(#a)"/>
<line class="ln" x1="856" y1="579" x2="856" y2="562" marker-end="url(#a)"/>
<line class="ln" x1="858" y1="658" x2="858" y2="647" marker-end="url(#a)"/>
<!-- PE / PC -->
<line class="ln" x1="420" y1="551" x2="446" y2="551" marker-end="url(#a)"/>
<line class="ln" x1="543" y1="551" x2="570" y2="551" marker-end="url(#a)"/>
<path class="ln" d="M770,556 H778 V661" marker-end="url(#a)"/>
<line class="ln" x1="341" y1="658" x2="341" y2="558" marker-end="url(#a)"/>
<line class="th" x1="357" y1="571" x2="357" y2="724" marker-end="url(#A)"/>
<line class="ln" x1="452" y1="619" x2="482" y2="619" marker-end="url(#a)"/>
<line class="ln" x1="540" y1="619" x2="566" y2="619" marker-end="url(#a)"/>
<line class="ln" x1="743" y1="640" x2="743" y2="661" marker-end="url(#a)"/>
<line class="ln" x1="428" y1="658" x2="428" y2="627" marker-end="url(#a)"/>
<path class="ln" d="M631,658 V652 H724 V661" marker-end="url(#a)"/>
<line class="ln" x1="540" y1="658" x2="540" y2="643" marker-end="url(#a)"/>
<!-- dolichyl -->
<line class="ln" x1="125" y1="427" x2="252" y2="427" marker-end="url(#a)"/>
<line class="th" x1="282" y1="432" x2="282" y2="440" marker-end="url(#A)"/>
<line class="th" x1="282" y1="473.6" x2="282" y2="479.4" marker-start="url(#A)" marker-end="url(#A)"/>
<line class="th" x1="282" y1="505" x2="282" y2="515" marker-end="url(#A)"/>
<path class="th" d="M183,534 C204,537 214,549 220,560" marker-end="url(#A)"/>
<path class="th" d="M233,531 C213,535 203,545 198,557" marker-end="url(#A)"/>
<line class="ln" x1="271" y1="577" x2="271" y2="609" marker-end="url(#a)"/>
<!-- transporter ticks -->
<path class="ln" d="M80,258 H90 M80,345 H90 M85,427 H90 M80,522 H90 M78,599 H90"/>
<line class="ln" x1="125" y1="258" x2="138" y2="258" marker-end="url(#a)"/>
<line class="ln" x1="125" y1="345" x2="138" y2="345" marker-end="url(#a)"/>
<line class="ln" x1="125" y1="522" x2="138" y2="522" marker-end="url(#a)"/>
<line class="ln" x1="125" y1="599" x2="138" y2="599" marker-end="url(#a)"/>
<path class="ln" d="M272,104 V110 M283,146 V151 M482,105 V110 M547,105 V110 M557,146 V151 M626,105 V110 M620,146 V151 M729,105 V110 M942,104 V110 M1122,105 V110 M1213,105 V110"/>
<line class="ln" x1="283" y1="110" x2="283" y2="99" marker-end="url(#a)"/>
<line class="ln" x1="557" y1="110" x2="557" y2="99" marker-end="url(#a)"/>
<line class="ln" x1="619" y1="110" x2="619" y2="99" marker-end="url(#a)"/>
<line class="ln" x1="272" y1="146" x2="272" y2="157" marker-end="url(#a)"/>
<line class="ln" x1="482" y1="146" x2="482" y2="157" marker-end="url(#a)"/>
<line class="ln" x1="548" y1="146" x2="548" y2="157" marker-end="url(#a)"/>
<line class="ln" x1="626" y1="146" x2="626" y2="157" marker-end="url(#a)"/>
<line class="ln" x1="729" y1="146" x2="729" y2="157" marker-end="url(#a)"/>
<line class="ln" x1="1122" y1="146" x2="1122" y2="157" marker-end="url(#a)"/>
<line class="ln" x1="1213" y1="146" x2="1213" y2="157" marker-end="url(#a)"/>
<path class="ln" d="M145,696 V707 M214,696 V707 M341,696 V707 M428,696 V707 M540,696 V707 M631,696 V707 M858,696 V707 M970,696 V707 M1028,696 V707 M1107,696 V707 M1234,696 V707"/>
<line class="ln" x1="145" y1="658" x2="145" y2="639" marker-end="url(#a)"/>
<line class="ln" x1="214" y1="658" x2="214" y2="639" marker-end="url(#a)"/>
<line class="ln" x1="970" y1="658" x2="970" y2="647" marker-end="url(#a)"/>
<line class="ln" x1="1028" y1="658" x2="1028" y2="647" marker-end="url(#a)"/>
<line class="ln" x1="1107" y1="658" x2="1107" y2="647" marker-end="url(#a)"/>
<line class="ln" x1="1234" y1="658" x2="1234" y2="653" marker-end="url(#a)"/>
</g>

<!-- TRANSPORTERS -->
<g id="transporters">
<g id="t-mip"><rect class="tp" x="246" y="110" width="55" height="36" rx="8" fill="#35bfc0"/><text class="tb" x="273.5" y="132.5">MIP</text></g>
<g id="t-sugar"><rect class="tp" x="323" y="110" width="55" height="36" rx="8" fill="#4cb74e"/><text class="tb" x="350.5" y="126">Sugar</text><text class="tb" x="350.5" y="140">_tr</text></g>
<g id="t-dmt"><rect class="tp" x="457" y="110" width="50" height="36" rx="8" fill="#f4ea1e"/><text class="tb" x="482" y="132.5">DMT</text></g>
<g id="t-zip"><rect class="tp" x="528" y="110" width="50" height="36" rx="8" fill="#f4ea1e"/><text class="tb" x="553" y="132.5">ZIP</text></g>
<g id="t-sulp"><rect class="tp" x="596" y="110" width="49" height="36" rx="8" fill="#f4ea1e"/><text class="tb" x="620.5" y="132.5">SulP</text></g>
<g id="t-vf"><rect class="tp" x="695" y="110" width="72" height="36" rx="8" fill="#f6a51d"/><text class="tb" x="731" y="126">V/F type</text><text class="tb" x="731" y="140">ATPases</text></g>
<g id="spore-wall"><rect class="tp" x="793" y="98" width="112" height="33" fill="#f0b323"/><text class="tb" x="849" y="119">SPORE WALL</text></g>
<g id="t-abc-ino"><rect class="tp" x="917" y="110" width="51" height="36" rx="8" fill="#cc8bbf"/><text class="tb" x="942.5" y="132.5">ABC</text></g>
<g id="t-unchar"><rect class="tp" x="974" y="110" width="108" height="36" rx="12" fill="#bfe4f5"/><text class="tb" x="1028" y="126" style="font-size:11.5px">Uncharacterized</text><text class="tb" x="1028" y="140" style="font-size:11.5px">transporters</text></g>
<g id="t-tlc"><rect class="tp" x="1089" y="110" width="72" height="36" rx="8" fill="#f6a51d"/><text class="tb" x="1125" y="132.5">TLC</text></g>
<g id="t-ptype"><rect class="tp" x="1177" y="110" width="72" height="36" rx="8" fill="#f6a51d"/><text class="tb" x="1213" y="126">Ptype</text><text class="tb" x="1213" y="140">ATPases</text></g>
<g id="t-cpa1"><rect class="tp" x="90" y="235" width="35" height="48" rx="8" fill="#f4ea1e"/><text class="tx" x="107.5" y="261">CPA1</text></g>
<g id="t-dass"><rect class="tp" x="90" y="323" width="35" height="50" rx="8" fill="#f4ea1e"/><text class="tx" x="107.5" y="349">DASS</text></g>
<g id="t-mfs"><rect class="tp" x="90" y="409" width="35" height="53" rx="8" fill="#4cb74e"/><text class="tx" x="107.5" y="432">MFS</text></g>
<g id="t-cation"><rect class="tp" x="90" y="497" width="35" height="50" rx="8" fill="#f4ea1e"/><text class="tx" x="107.5" y="522">Cation</text><text class="tx" x="107.5" y="536">efflux</text></g>
<g id="t-hco3"><rect class="tp" x="90" y="574" width="35" height="50" rx="8" fill="#f4ea1e"/><text class="tx" x="107.5" y="603">HCO3</text></g>
<g id="t-pho1"><rect class="tp" x="121" y="658" width="50" height="38" rx="8" fill="#f4ea1e"/><text class="tx" x="146" y="681">Pho1</text></g>
<g id="t-caclc"><rect class="tp" x="191" y="658" width="50" height="38" rx="8" fill="#f4ea1e"/><text class="tx" x="216" y="681">Ca-ClC</text></g>
<g id="t-abc-multi"><rect class="tp" x="331" y="658" width="51" height="38" rx="8" fill="#cc8bbf"/><text class="tx" x="356.5" y="681">ABC</text></g>
<g id="t-ctl"><rect class="tp" x="401" y="658" width="50" height="38" rx="8" fill="#cc8bbf"/><text class="tx" x="426" y="681">CTL</text></g>
<g id="t-mscs"><rect class="tp" x="515" y="658" width="50" height="38" rx="8" fill="#f4ea1e"/><text class="tx" x="540" y="681">MScS</text></g>
<g id="t-abc-lip"><rect class="tp" x="605" y="658" width="50" height="38" rx="8" fill="#cc8bbf"/><text class="tx" x="630" y="681">ABC</text></g>
<g id="cell-membrane"><rect class="tp" x="678" y="662" width="134" height="33" fill="#f0b323"/><text class="tx" x="745" y="683" style="font-size:12.5px">CELL MEMBRANE</text></g>
<g id="t-abc-palm"><rect class="tp" x="832" y="658" width="52" height="38" rx="8" fill="#cc8bbf"/><text class="tx" x="858" y="681">ABC</text></g>
<g id="t-aaap"><rect class="tp" x="946" y="658" width="53" height="38" rx="8" fill="#4cc8ec"/><text class="tx" x="972.5" y="681">AAAP</text></g>
<g id="t-aatrans"><rect class="tp" x="1007" y="658" width="54" height="38" rx="8" fill="#4cc8ec"/><text class="tx" x="1034" y="681">Aa_trans</text></g>
<g id="t-pot"><rect class="tp" x="1082" y="658" width="53" height="38" rx="8" fill="#4cc8ec"/><text class="tx" x="1108.5" y="681">POT</text></g>
<g id="t-uaa"><rect class="tp" x="1210" y="658" width="50" height="38" rx="8" fill="#f6a51d"/><text class="tx" x="1235" y="681">UAA</text></g>
</g>
</svg>
